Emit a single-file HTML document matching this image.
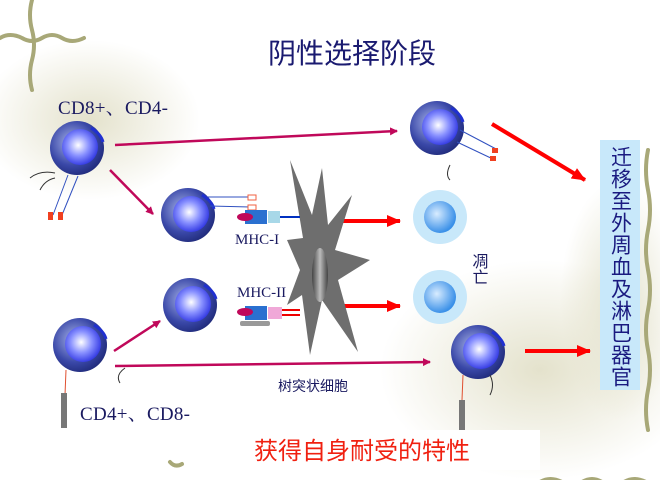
<!DOCTYPE html>
<html><head><meta charset="utf-8"><style>
body{margin:0;width:660px;height:480px;overflow:hidden;background:#fff}
svg{display:block}
</style></head><body>
<svg width="660" height="480" viewBox="0 0 660 480" xmlns="http://www.w3.org/2000/svg">
<defs>
<radialGradient id="outer" cx="0.4" cy="0.4" r="0.7"><stop offset="0" stop-color="#a8b4e8"/><stop offset="0.6" stop-color="#3a48a8"/><stop offset="1" stop-color="#1a2470"/></radialGradient>
<radialGradient id="inner" cx="0.45" cy="0.45" r="0.6"><stop offset="0" stop-color="#ffffff"/><stop offset="0.5" stop-color="#8890ff"/><stop offset="1" stop-color="#2a30e0"/></radialGradient>
<radialGradient id="apin" cx="0.4" cy="0.4" r="0.6"><stop offset="0" stop-color="#d8ecff"/><stop offset="1" stop-color="#3a90e8"/></radialGradient>
<radialGradient id="bg" cx="0.5" cy="0.5" r="0.5"><stop offset="0" stop-color="#e4e2cc"/><stop offset="1" stop-color="#e4e2cc" stop-opacity="0"/></radialGradient>
<linearGradient id="nuc" x1="0" x2="1"><stop offset="0" stop-color="#444"/><stop offset="0.5" stop-color="#bbb"/><stop offset="1" stop-color="#444"/></linearGradient>
<marker id="pm" markerWidth="8" markerHeight="8" refX="7" refY="4" orient="auto" markerUnits="userSpaceOnUse"><path d="M0,0 L8,4 L0,8z" fill="#c0085a"/></marker>
<marker id="rm" markerWidth="14" markerHeight="12" refX="13" refY="6" orient="auto" markerUnits="userSpaceOnUse"><path d="M0,0 L14,6 L0,12z" fill="#f00"/></marker>
<g id="cell"><circle r="27" fill="url(#outer)"/><circle cx="3" cy="-1" r="18" fill="url(#inner)"/><path d="M14,-20 q10,6 12,14" stroke="#2030d0" stroke-width="3" fill="none"/></g>
</defs>
<ellipse cx="90" cy="120" rx="110" ry="80" fill="url(#bg)"/>
<ellipse cx="540" cy="370" rx="160" ry="110" fill="url(#bg)"/>
<ellipse cx="620" cy="300" rx="60" ry="120" fill="url(#bg)"/>
<g stroke="#a8a878" stroke-width="4" fill="none" stroke-linecap="round">
<path d="M32,0 q-4,15 0,30 q4,15 0,30 q-4,15 0,30"/>
<path d="M0,38 q10,-6 22,0 q10,6 20,0 q10,-6 20,0 q10,6 22,0"/>
<path d="M648,150 q-4,20 0,40 q4,20 0,40 q-4,20 0,40 q4,20 0,40 q-4,20 0,40 q4,20 0,40 q-4,20 0,40"/>
<path d="M540,482 q10,-6 22,0 q10,6 20,0 q10,-6 20,0 q10,6 22,0 q10,-6 22,0"/>
<path d="M170,462 q5,6 12,2"/>
</g>
<text x="352" y="63" font-family="'Liberation Sans','Noto Sans CJK SC',sans-serif" font-size="28" fill="#1a1a70" text-anchor="middle">阴性选择阶段</text>
<text x="58" y="114" font-family="'Liberation Serif','Noto Serif CJK SC',serif" font-size="19" fill="#1a1a60" textLength="110">CD8+、CD4-</text>
<text x="80" y="420" font-family="'Liberation Serif','Noto Serif CJK SC',serif" font-size="19" fill="#1a1a60" textLength="110">CD4+、CD8-</text>
<g stroke="#c0085a" stroke-width="2.5" fill="none">
<line x1="115" y1="145" x2="397" y2="131" marker-end="url(#pm)"/>
<line x1="110" y1="170" x2="153" y2="214" marker-end="url(#pm)"/>
<line x1="114" y1="351" x2="160" y2="321" marker-end="url(#pm)"/>
<line x1="115" y1="366" x2="430" y2="362" marker-end="url(#pm)"/>
</g>
<g stroke="#f00" stroke-width="4" fill="none">
<line x1="492" y1="124" x2="585" y2="180" marker-end="url(#rm)"/>
<line x1="338" y1="221" x2="400" y2="221" marker-end="url(#rm)"/>
<line x1="338" y1="306" x2="400" y2="306" marker-end="url(#rm)"/>
<line x1="525" y1="351" x2="590" y2="351" marker-end="url(#rm)"/>
</g>
<path d="M290,160 L312,215 L322,168 L328,225 L352,195 L335,250 L370,260 L338,280 L358,352 L322,300 L310,355 L302,295 L287,305 L300,270 L287,240 L303,238 Z" fill="#6e6e6e"/>
<ellipse cx="320" cy="275" rx="8" ry="27" fill="url(#nuc)"/>
<text x="278" y="391" font-family="'Liberation Sans','Noto Sans CJK SC',sans-serif" font-size="14" fill="#1a1a60">树突状细胞</text>
<use href="#cell" x="77" y="148"/>
<use href="#cell" x="188" y="215"/>
<use href="#cell" x="190" y="305"/>
<use href="#cell" x="80" y="345"/>
<use href="#cell" x="437" y="128"/>
<use href="#cell" x="478" y="352"/>
<g stroke="#3050c0" stroke-width="1"><line x1="68" y1="175" x2="53" y2="215"/><line x1="78" y1="176" x2="62" y2="215"/><line x1="460" y1="130" x2="498" y2="150"/><line x1="457" y1="142" x2="495" y2="160"/><line x1="208" y1="197" x2="250" y2="197"/><line x1="210" y1="206" x2="250" y2="207"/></g>
<g fill="none" stroke="#333" stroke-width="1"><path d="M30,178 q10,-8 25,-5"/><path d="M40,190 q5,-10 15,-12"/><path d="M120,383 q-5,-8 5,-15"/><path d="M450,165 q-5,10 0,15"/><path d="M490,375 q5,10 0,20"/></g>
<g fill="#f04020"><rect x="48" y="212" width="5" height="8"/><rect x="58" y="212" width="5" height="8"/><rect x="492" y="148" width="6" height="5"/><rect x="490" y="156" width="6" height="5"/></g>
<g stroke="#e05030" stroke-width="1"><line x1="66" y1="370" x2="65" y2="395"/><line x1="463" y1="375" x2="462" y2="400"/></g>
<rect x="61" y="393" width="6" height="35" fill="#777"/><rect x="459" y="400" width="6" height="30" fill="#777"/>
<rect x="248" y="195" width="8" height="5" fill="#fff" stroke="#f06040"/><rect x="248" y="205" width="8" height="5" fill="#fff" stroke="#f06040"/>
<rect x="245" y="210" width="22" height="14" fill="#2a70d0"/><ellipse cx="245" cy="217" rx="8" ry="4" fill="#c0085a"/>
<rect x="268" y="211" width="12" height="12" fill="#a8d8e8"/><line x1="280" y1="217" x2="300" y2="217" stroke="#0030c0" stroke-width="2"/>
<text x="235" y="244" font-family="'Liberation Serif',serif" font-size="15" fill="#1a1a60">MHC-I</text>
<text x="237" y="297" font-family="'Liberation Serif',serif" font-size="15" fill="#1a1a60">MHC-II</text>
<rect x="245" y="306" width="22" height="14" fill="#2a70d0"/><ellipse cx="245" cy="312" rx="8" ry="4" fill="#c0085a"/>
<rect x="268" y="307" width="14" height="12" fill="#f0a8d8"/><line x1="282" y1="310" x2="300" y2="310" stroke="#e00" stroke-width="2"/><line x1="282" y1="315" x2="300" y2="315" stroke="#e00" stroke-width="2"/>
<rect x="240" y="321" width="30" height="5" rx="2" fill="#999"/>
<circle cx="440" cy="217" r="27" fill="#c8e8fa"/><circle cx="440" cy="217" r="16" fill="url(#apin)"/>
<circle cx="440" cy="297" r="27" fill="#c8e8fa"/><circle cx="440" cy="297" r="16" fill="url(#apin)"/>
<text x="478" y="253" font-family="'Liberation Sans','Noto Sans CJK SC',sans-serif" font-size="16" fill="#1a1a60" writing-mode="tb">凋亡</text>
<rect x="600" y="140" width="40" height="250" fill="#c8e8fa"/>
<text x="620" y="146" font-family="'Liberation Sans','Noto Sans CJK SC',sans-serif" font-size="21" fill="#1a1a80" writing-mode="tb" letter-spacing="1">迁移至外周血及淋巴器官</text>
<rect x="214" y="430" width="326" height="40" fill="#fff"/>
<text x="362" y="459" font-family="'Liberation Sans','Noto Sans CJK SC',sans-serif" font-size="24" fill="#f02010" text-anchor="middle">获得自身耐受的特性</text>
</svg>
</body></html>
